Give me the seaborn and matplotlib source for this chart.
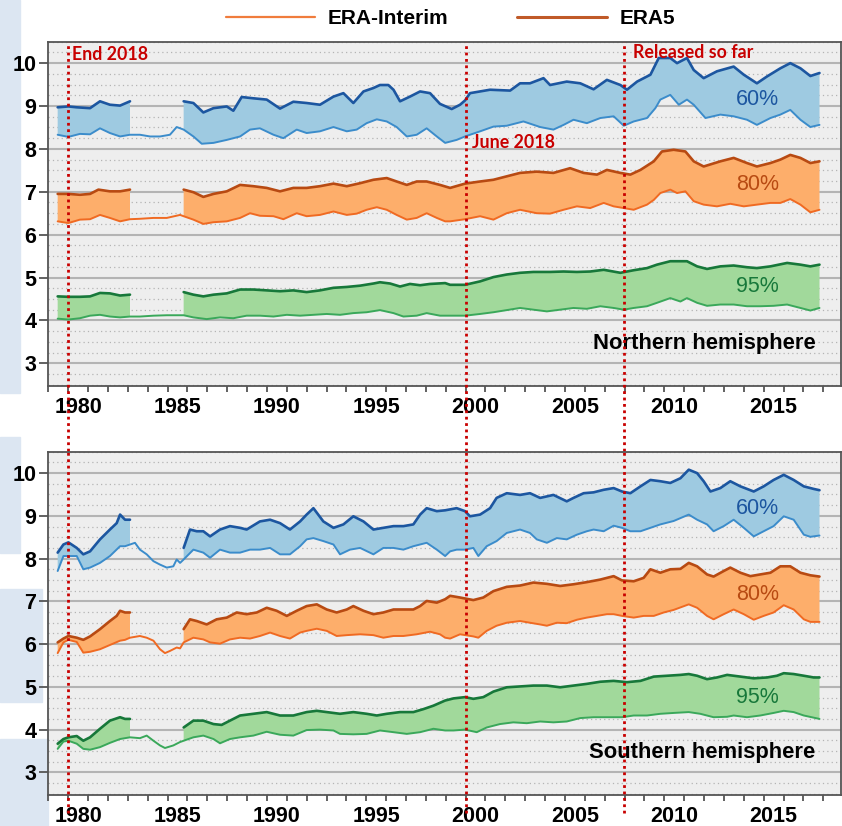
import numpy as np
import matplotlib
matplotlib.use("Agg")
import matplotlib.pyplot as plt
from matplotlib.lines import Line2D
from matplotlib.patches import Rectangle
from matplotlib.ticker import MultipleLocator
import seaborn as sns

sns.set_theme(style="white")
plt.rcParams['font.family'] = ['Liberation Sans', 'DejaVu Sans']
plt.rcParams['font.weight'] = 'bold'
plt.rcParams['text.color'] = 'black'
plt.rcParams['xtick.labelcolor'] = 'black'
plt.rcParams['ytick.labelcolor'] = 'black'

# ---- data: (year, value) ----
# Northern hemisphere
nh60_era5 = [(1979.47, 8.97), (1980.01, 8.99), (1980.43, 8.97), (1981.10, 8.95), (1981.60, 9.11), (1982.10, 9.03),
             (1982.61, 9.01), (1983.11, 9.11),
             (1985.81, 9.11), (1986.30, 9.07), (1986.80, 8.85), (1987.31, 8.95), (1987.98, 8.99), (1988.31, 8.89),
             (1988.73, 9.21), (1989.32, 9.18), (1989.99, 9.15), (1990.66, 8.94), (1991.33, 9.10), (1992.00, 9.07),
             (1992.67, 9.03), (1993.35, 9.22), (1993.85, 9.30), (1994.35, 9.07), (1994.86, 9.34), (1995.36, 9.42),
             (1995.69, 9.49), (1996.11, 9.49), (1996.37, 9.38), (1996.70, 9.11), (1997.20, 9.22), (1997.71, 9.34),
             (1998.21, 9.30), (1998.71, 9.05), (1999.30, 8.93), (1999.72, 9.03), (1999.97, 9.13), (2000.22, 9.30),
             (2001.23, 9.38), (2002.24, 9.36), (2002.74, 9.53), (2003.24, 9.53), (2003.92, 9.65), (2004.25, 9.49),
             (2005.09, 9.57), (2005.77, 9.53), (2006.44, 9.39), (2007.11, 9.61), (2007.79, 9.49), (2008.12, 9.38),
             (2008.63, 9.57), (2009.30, 9.73), (2009.72, 10.12), (2010.30, 10.12), (2010.64, 10.00), (2011.14, 10.12),
             (2011.48, 9.84), (2011.98, 9.65), (2012.65, 9.81), (2013.49, 9.92), (2014.00, 9.73), (2014.66, 9.53),
             (2015.17, 9.69), (2015.84, 9.88), (2016.34, 10.00), (2016.85, 9.88), (2017.35, 9.70), (2017.81, 9.77)]
nh60_erai = [(1979.47, 8.33), (1980.01, 8.28), (1980.59, 8.35), (1981.10, 8.34), (1981.60, 8.48), (1982.10, 8.37),
             (1982.61, 8.29), (1983.11, 8.33), (1983.61, 8.33), (1984.12, 8.29), (1984.62, 8.29), (1985.12, 8.33),
             (1985.46, 8.51), (1985.81, 8.45), (1986.30, 8.29), (1986.72, 8.12), (1987.31, 8.14), (1987.98, 8.21),
             (1988.65, 8.29), (1989.15, 8.45), (1989.65, 8.48), (1990.33, 8.33), (1990.83, 8.25), (1991.50, 8.45),
             (1992.00, 8.37), (1992.67, 8.41), (1993.35, 8.51), (1994.02, 8.41), (1994.52, 8.45), (1995.02, 8.60),
             (1995.53, 8.69), (1996.03, 8.64), (1996.53, 8.51), (1997.04, 8.29), (1997.54, 8.33), (1998.04, 8.48),
             (1998.55, 8.29), (1998.97, 8.14), (1999.22, 8.17), (1999.55, 8.21), (1999.97, 8.29), (2000.73, 8.41),
             (2001.40, 8.52), (2002.07, 8.54), (2002.91, 8.64), (2003.75, 8.51), (2004.42, 8.45), (2004.93, 8.56),
             (2005.43, 8.68), (2006.10, 8.60), (2006.78, 8.72), (2007.45, 8.76), (2007.96, 8.54), (2008.46, 8.64),
             (2009.13, 8.72), (2009.55, 8.95), (2009.80, 9.15), (2010.30, 9.26), (2010.73, 9.03), (2011.14, 9.15),
             (2011.48, 9.03), (2012.07, 8.72), (2012.82, 8.80), (2013.49, 8.76), (2014.16, 8.68), (2014.66, 8.56),
             (2015.34, 8.72), (2015.84, 8.80), (2016.34, 8.91), (2016.85, 8.68), (2017.35, 8.51), (2017.81, 8.56)]
nh80_era5 = [(1979.47, 6.95), (1980.01, 6.95), (1980.59, 6.93), (1981.10, 6.95), (1981.52, 7.05), (1982.10, 7.01),
             (1982.61, 7.01), (1983.11, 7.05),
             (1985.81, 7.05), (1986.30, 6.99), (1986.80, 6.88), (1987.31, 6.95), (1987.98, 7.01), (1988.65, 7.16),
             (1989.32, 7.13), (1989.99, 7.09), (1990.66, 7.01), (1991.33, 7.09), (1992.00, 7.09), (1992.67, 7.13),
             (1993.35, 7.19), (1994.02, 7.13), (1994.69, 7.20), (1995.36, 7.28), (1996.03, 7.32), (1996.53, 7.24),
             (1997.04, 7.16), (1997.54, 7.24), (1998.04, 7.24), (1998.71, 7.16), (1999.22, 7.09), (1999.97, 7.19),
             (2000.73, 7.24), (2001.40, 7.28), (2002.07, 7.36), (2002.74, 7.44), (2003.58, 7.47), (2004.42, 7.44),
             (2005.26, 7.55), (2005.94, 7.44), (2006.61, 7.40), (2007.11, 7.51), (2007.79, 7.44), (2008.29, 7.40),
             (2008.80, 7.51), (2009.47, 7.71), (2009.88, 7.94), (2010.47, 7.98), (2011.06, 7.94), (2011.48, 7.71),
             (2011.98, 7.59), (2012.82, 7.71), (2013.49, 7.79), (2014.16, 7.67), (2014.66, 7.59), (2015.34, 7.67),
             (2015.84, 7.75), (2016.34, 7.86), (2016.85, 7.79), (2017.35, 7.67), (2017.81, 7.71)]
nh80_erai = [(1979.47, 6.31), (1980.01, 6.27), (1980.59, 6.35), (1981.10, 6.36), (1981.60, 6.46), (1982.10, 6.39),
             (1982.61, 6.31), (1983.11, 6.36), (1983.61, 6.37), (1984.29, 6.39), (1984.96, 6.39), (1985.63, 6.46),
             (1985.81, 6.43), (1986.30, 6.35), (1986.80, 6.25), (1987.31, 6.29), (1987.98, 6.31), (1988.65, 6.39),
             (1989.15, 6.50), (1989.65, 6.44), (1990.33, 6.43), (1990.83, 6.36), (1991.50, 6.50), (1992.00, 6.43),
             (1992.67, 6.46), (1993.35, 6.54), (1994.02, 6.46), (1994.52, 6.49), (1995.02, 6.58), (1995.53, 6.64),
             (1996.03, 6.58), (1996.53, 6.46), (1997.04, 6.35), (1997.54, 6.39), (1998.04, 6.50), (1998.55, 6.39),
             (1998.97, 6.31), (1999.22, 6.31), (1999.97, 6.36), (2000.73, 6.43), (2001.40, 6.35), (2002.07, 6.50),
             (2002.74, 6.58), (2003.58, 6.50), (2004.25, 6.49), (2004.93, 6.58), (2005.60, 6.66), (2006.27, 6.62),
             (2006.95, 6.74), (2007.45, 6.66), (2007.96, 6.62), (2008.46, 6.58), (2009.13, 6.70), (2009.47, 6.81),
             (2009.80, 6.97), (2010.30, 7.05), (2010.64, 6.97), (2011.06, 7.01), (2011.48, 6.78), (2011.98, 6.70),
             (2012.65, 6.66), (2013.32, 6.72), (2014.00, 6.66), (2014.66, 6.70), (2015.34, 6.74), (2015.84, 6.74),
             (2016.34, 6.83), (2016.85, 6.70), (2017.35, 6.52), (2017.81, 6.58)]
nh95_era5 = [(1979.47, 4.56), (1980.01, 4.55), (1980.59, 4.55), (1981.10, 4.56), (1981.60, 4.64), (1982.10, 4.63),
             (1982.61, 4.58), (1983.11, 4.60),
             (1985.81, 4.66), (1986.30, 4.60), (1986.80, 4.56), (1987.31, 4.60), (1987.98, 4.63), (1988.65, 4.72),
             (1989.32, 4.72), (1989.99, 4.70), (1990.66, 4.68), (1991.33, 4.70), (1992.00, 4.66), (1992.67, 4.70),
             (1993.35, 4.76), (1994.02, 4.78), (1994.69, 4.81), (1995.36, 4.86), (1995.69, 4.89), (1996.20, 4.86),
             (1996.70, 4.79), (1997.20, 4.85), (1997.71, 4.82), (1998.21, 4.85), (1998.97, 4.87), (1999.22, 4.83),
             (1999.97, 4.83), (2000.73, 4.91), (2001.40, 5.01), (2002.07, 5.07), (2002.74, 5.11), (2003.41, 5.13),
             (2004.25, 5.13), (2004.93, 5.14), (2005.60, 5.13), (2006.27, 5.14), (2006.95, 5.18), (2007.79, 5.11),
             (2008.46, 5.17), (2009.13, 5.22), (2009.63, 5.30), (2010.30, 5.38), (2010.81, 5.38), (2011.14, 5.38),
             (2011.65, 5.26), (2012.15, 5.20), (2012.82, 5.26), (2013.49, 5.28), (2014.16, 5.24), (2014.66, 5.22),
             (2015.34, 5.26), (2016.18, 5.34), (2016.85, 5.30), (2017.35, 5.26), (2017.81, 5.30)]
nh95_erai = [(1979.47, 4.04), (1980.01, 4.02), (1980.59, 4.05), (1981.10, 4.11), (1981.60, 4.13), (1982.10, 4.09),
             (1982.61, 4.07), (1983.11, 4.09), (1983.61, 4.09), (1984.29, 4.11), (1984.96, 4.12), (1985.63, 4.12),
             (1985.81, 4.12), (1986.30, 4.07), (1986.97, 4.03), (1987.64, 4.07), (1988.31, 4.05), (1988.98, 4.11),
             (1989.65, 4.11), (1990.33, 4.09), (1991.00, 4.13), (1991.67, 4.11), (1992.34, 4.13), (1993.01, 4.15),
             (1993.68, 4.13), (1994.35, 4.17), (1995.02, 4.19), (1995.69, 4.24), (1996.37, 4.17), (1996.87, 4.09),
             (1997.54, 4.11), (1998.04, 4.17), (1998.71, 4.11), (1999.39, 4.11), (1999.97, 4.11), (2000.73, 4.15),
             (2001.40, 4.19), (2002.07, 4.24), (2002.74, 4.29), (2003.41, 4.25), (2004.09, 4.21), (2004.76, 4.25),
             (2005.43, 4.29), (2006.10, 4.27), (2006.78, 4.33), (2007.45, 4.29), (2007.96, 4.25), (2008.46, 4.29),
             (2009.13, 4.33), (2009.63, 4.41), (2010.30, 4.52), (2010.81, 4.44), (2011.14, 4.52), (2011.65, 4.41),
             (2012.15, 4.34), (2012.82, 4.37), (2013.49, 4.37), (2014.16, 4.33), (2014.83, 4.33), (2015.50, 4.34),
             (2016.18, 4.37), (2016.85, 4.29), (2017.35, 4.23), (2017.81, 4.29)]

# Southern hemisphere
sh60_era5 = [(1979.47, 8.14), (1979.76, 8.33), (1980.01, 8.38), (1980.43, 8.25), (1980.76, 8.10), (1981.10, 8.17),
             (1981.60, 8.45), (1982.10, 8.68), (1982.44, 8.83), (1982.61, 9.03), (1982.86, 8.91), (1983.11, 8.91),
             (1985.81, 8.25), (1986.13, 8.68), (1986.47, 8.64), (1986.80, 8.64), (1987.14, 8.52), (1987.64, 8.68),
             (1988.14, 8.76), (1988.65, 8.72), (1988.98, 8.68), (1989.65, 8.87), (1990.16, 8.91), (1990.66, 8.83),
             (1991.16, 8.68), (1991.67, 8.87), (1992.00, 9.03), (1992.34, 9.18), (1992.84, 8.87), (1993.35, 8.72),
             (1993.85, 8.80), (1994.35, 8.99), (1994.86, 8.87), (1995.36, 8.68), (1995.86, 8.72), (1996.37, 8.76),
             (1996.87, 8.76), (1997.37, 8.80), (1997.71, 9.03), (1998.04, 9.18), (1998.55, 9.11), (1998.97, 9.13),
             (1999.55, 9.18), (1999.97, 9.11), (2000.22, 8.99), (2000.73, 9.03), (2001.23, 9.18), (2001.56, 9.42),
             (2002.07, 9.53), (2002.74, 9.49), (2003.24, 9.53), (2003.75, 9.42), (2004.42, 9.49), (2005.09, 9.34),
             (2005.43, 9.42), (2005.94, 9.53), (2006.44, 9.55), (2006.95, 9.61), (2007.45, 9.65), (2007.87, 9.57),
             (2008.29, 9.53), (2008.80, 9.69), (2009.30, 9.84), (2009.80, 9.81), (2010.30, 9.77), (2010.81, 9.88),
             (2011.23, 10.08), (2011.65, 10.00), (2011.98, 9.81), (2012.32, 9.57), (2012.82, 9.65), (2013.32, 9.81),
             (2013.83, 9.69), (2014.50, 9.57), (2015.00, 9.69), (2015.50, 9.84), (2016.01, 9.96), (2016.51, 9.84),
             (2017.02, 9.69), (2017.52, 9.63), (2017.81, 9.60)]
sh60_erai = [(1979.47, 7.71), (1979.76, 8.06), (1980.01, 8.06), (1980.43, 8.06), (1980.76, 7.75), (1981.10, 7.79),
             (1981.60, 7.90), (1982.10, 8.06), (1982.61, 8.29), (1982.86, 8.29), (1983.11, 8.33), (1983.36, 8.37),
             (1983.61, 8.21), (1983.95, 8.10), (1984.29, 7.94), (1984.62, 7.86), (1984.96, 7.79), (1985.29, 7.82),
             (1985.46, 7.98), (1985.63, 7.90), (1985.81, 7.98), (1986.30, 8.21), (1986.80, 8.14), (1987.14, 8.02),
             (1987.64, 8.21), (1988.14, 8.14), (1988.65, 8.14), (1989.15, 8.21), (1989.65, 8.21), (1990.16, 8.25),
             (1990.66, 8.10), (1991.16, 8.10), (1991.67, 8.29), (1992.00, 8.45), (1992.34, 8.48), (1992.84, 8.41),
             (1993.35, 8.33), (1993.68, 8.10), (1994.18, 8.21), (1994.69, 8.25), (1995.36, 8.10), (1995.86, 8.25),
             (1996.37, 8.25), (1996.87, 8.21), (1997.37, 8.29), (1998.04, 8.37), (1998.55, 8.21), (1998.97, 8.06),
             (1999.22, 8.17), (1999.55, 8.21), (1999.97, 8.21), (2000.39, 8.25), (2000.64, 8.06), (2001.06, 8.29),
             (2001.56, 8.41), (2002.07, 8.60), (2002.74, 8.68), (2003.24, 8.60), (2003.58, 8.45), (2004.09, 8.37),
             (2004.59, 8.48), (2005.09, 8.45), (2005.60, 8.56), (2006.10, 8.64), (2006.44, 8.68), (2006.95, 8.64),
             (2007.45, 8.77), (2007.87, 8.72), (2008.29, 8.64), (2008.80, 8.64), (2009.30, 8.72), (2009.80, 8.80),
             (2010.47, 8.88), (2011.23, 9.03), (2011.65, 8.91), (2012.15, 8.80), (2012.48, 8.64), (2012.99, 8.76),
             (2013.49, 8.91), (2014.00, 8.72), (2014.50, 8.52), (2015.00, 8.64), (2015.50, 8.76), (2016.01, 8.99),
             (2016.51, 8.91), (2017.02, 8.56), (2017.35, 8.51), (2017.81, 8.54)]
sh80_era5 = [(1979.47, 6.04), (1979.76, 6.13), (1980.01, 6.19), (1980.43, 6.15), (1980.76, 6.10), (1981.10, 6.18),
             (1981.60, 6.35), (1982.10, 6.54), (1982.44, 6.66), (1982.61, 6.78), (1982.86, 6.74), (1983.11, 6.74),
             (1985.81, 6.35), (1986.13, 6.58), (1986.47, 6.54), (1986.97, 6.46), (1987.47, 6.58), (1987.98, 6.62),
             (1988.48, 6.74), (1988.98, 6.70), (1989.49, 6.74), (1989.99, 6.85), (1990.49, 6.78), (1991.00, 6.66),
             (1991.50, 6.78), (1992.00, 6.89), (1992.51, 6.93), (1993.01, 6.81), (1993.51, 6.74), (1994.02, 6.81),
             (1994.35, 6.89), (1994.86, 6.78), (1995.36, 6.70), (1995.86, 6.74), (1996.37, 6.81), (1996.87, 6.81),
             (1997.37, 6.81), (1997.71, 6.89), (1998.04, 7.01), (1998.55, 6.97), (1998.97, 7.05), (1999.22, 7.13),
             (1999.72, 7.09), (2000.39, 7.03), (2000.89, 7.09), (2001.40, 7.24), (2002.07, 7.34), (2002.74, 7.37),
             (2003.41, 7.44), (2004.09, 7.41), (2004.76, 7.36), (2005.43, 7.40), (2006.10, 7.45), (2006.78, 7.51),
             (2007.45, 7.59), (2007.87, 7.49), (2008.46, 7.47), (2008.96, 7.55), (2009.30, 7.75), (2009.80, 7.67),
             (2010.30, 7.75), (2010.81, 7.76), (2011.23, 7.90), (2011.65, 7.82), (2012.15, 7.63), (2012.48, 7.58),
             (2012.99, 7.71), (2013.32, 7.79), (2013.83, 7.67), (2014.33, 7.59), (2014.83, 7.63), (2015.34, 7.67),
             (2015.84, 7.82), (2016.34, 7.82), (2016.85, 7.67), (2017.35, 7.61), (2017.81, 7.58)]
sh80_erai = [(1979.47, 5.79), (1979.76, 6.04), (1980.01, 6.10), (1980.43, 6.05), (1980.76, 5.80), (1981.10, 5.82),
             (1981.60, 5.88), (1982.10, 5.98), (1982.61, 6.08), (1982.86, 6.10), (1983.11, 6.15), (1983.61, 6.19),
             (1983.95, 6.15), (1984.29, 6.08), (1984.62, 5.88), (1984.87, 5.79), (1985.12, 5.84), (1985.46, 5.92),
             (1985.63, 5.90), (1985.81, 6.04), (1986.30, 6.15), (1986.80, 6.11), (1987.14, 6.04), (1987.64, 6.01),
             (1988.14, 6.11), (1988.65, 6.15), (1989.15, 6.13), (1989.65, 6.19), (1990.16, 6.27), (1990.66, 6.19),
             (1991.16, 6.13), (1991.67, 6.27), (1992.00, 6.31), (1992.51, 6.36), (1993.01, 6.31), (1993.51, 6.19),
             (1994.02, 6.21), (1994.69, 6.23), (1995.36, 6.21), (1995.86, 6.15), (1996.37, 6.19), (1996.87, 6.19),
             (1997.54, 6.23), (1998.21, 6.29), (1998.71, 6.23), (1998.97, 6.15), (1999.22, 6.13), (1999.72, 6.23),
             (2000.39, 6.18), (2000.64, 6.15), (2001.06, 6.31), (2001.56, 6.43), (2002.07, 6.50), (2002.74, 6.54),
             (2003.24, 6.50), (2003.75, 6.46), (2004.09, 6.43), (2004.59, 6.50), (2005.09, 6.49), (2005.60, 6.57),
             (2006.10, 6.62), (2006.61, 6.66), (2007.11, 6.70), (2007.45, 6.70), (2007.87, 6.66), (2008.46, 6.62),
             (2008.96, 6.66), (2009.47, 6.66), (2009.97, 6.74), (2010.47, 6.80), (2011.23, 6.93), (2011.65, 6.85),
             (2012.15, 6.66), (2012.48, 6.58), (2012.99, 6.70), (2013.49, 6.81), (2014.00, 6.70), (2014.50, 6.57),
             (2015.00, 6.66), (2015.50, 6.74), (2016.01, 6.91), (2016.51, 6.81), (2017.02, 6.58), (2017.35, 6.52),
             (2017.81, 6.52)]
sh95_era5 = [(1979.47, 3.67), (1979.76, 3.78), (1980.01, 3.82), (1980.43, 3.85), (1980.76, 3.74), (1981.10, 3.82),
             (1981.60, 4.02), (1982.10, 4.21), (1982.61, 4.29), (1982.86, 4.25), (1983.11, 4.25),
             (1985.81, 4.05), (1986.30, 4.21), (1986.80, 4.21), (1987.31, 4.13), (1987.72, 4.11), (1988.14, 4.21),
             (1988.65, 4.33), (1989.32, 4.37), (1989.99, 4.41), (1990.66, 4.33), (1991.33, 4.33), (1992.00, 4.41),
             (1992.51, 4.44), (1993.01, 4.41), (1993.68, 4.37), (1994.35, 4.41), (1995.02, 4.37), (1995.53, 4.33),
             (1996.03, 4.37), (1996.70, 4.41), (1997.37, 4.41), (1997.88, 4.48), (1998.38, 4.56), (1998.97, 4.68),
             (1999.39, 4.73), (1999.97, 4.76), (2000.39, 4.72), (2000.89, 4.76), (2001.40, 4.89), (2002.07, 4.99),
             (2002.74, 5.01), (2003.41, 5.03), (2004.09, 5.03), (2004.76, 4.99), (2005.43, 5.03), (2006.10, 5.07),
             (2006.78, 5.12), (2007.45, 5.14), (2008.12, 5.11), (2008.80, 5.14), (2009.47, 5.24), (2010.14, 5.26),
             (2010.81, 5.28), (2011.23, 5.30), (2011.65, 5.26), (2012.15, 5.18), (2012.65, 5.22), (2013.16, 5.28),
             (2013.83, 5.24), (2014.50, 5.20), (2015.17, 5.22), (2015.67, 5.26), (2016.01, 5.32), (2016.51, 5.30),
             (2017.02, 5.26), (2017.52, 5.22), (2017.81, 5.22)]
sh95_erai = [(1979.47, 3.55), (1979.76, 3.72), (1980.01, 3.74), (1980.43, 3.67), (1980.76, 3.55), (1981.10, 3.53),
             (1981.60, 3.59), (1982.10, 3.69), (1982.61, 3.78), (1983.11, 3.82), (1983.61, 3.80), (1983.95, 3.86),
             (1984.29, 3.74), (1984.62, 3.63), (1984.87, 3.57), (1985.29, 3.63), (1985.63, 3.71), (1985.81, 3.74),
             (1986.30, 3.82), (1986.80, 3.86), (1987.31, 3.78), (1987.64, 3.68), (1988.14, 3.78), (1988.65, 3.82),
             (1989.32, 3.86), (1989.99, 3.95), (1990.66, 3.88), (1991.33, 3.86), (1992.00, 3.99), (1992.67, 4.00),
             (1993.35, 3.98), (1993.68, 3.90), (1994.35, 3.89), (1995.02, 3.90), (1995.69, 3.98), (1996.37, 3.94),
             (1997.04, 3.90), (1997.71, 3.94), (1998.38, 4.02), (1998.97, 3.98), (1999.39, 3.98), (1999.97, 4.00),
             (2000.56, 3.94), (2001.06, 4.05), (2001.73, 4.13), (2002.40, 4.17), (2003.08, 4.15), (2003.75, 4.19),
             (2004.42, 4.17), (2005.09, 4.19), (2005.77, 4.27), (2006.44, 4.29), (2007.11, 4.29), (2007.87, 4.29),
             (2008.46, 4.33), (2009.13, 4.33), (2009.80, 4.37), (2010.47, 4.39), (2011.23, 4.41), (2011.81, 4.37),
             (2012.48, 4.29), (2013.16, 4.30), (2013.49, 4.33), (2014.16, 4.29), (2014.83, 4.33), (2015.50, 4.39),
             (2016.01, 4.44), (2016.51, 4.41), (2017.02, 4.33), (2017.81, 4.25)]

bands = ['60%', '80%', '95%']
label_pos = {'NH': [9.15, 7.16, 4.79], 'SH': [9.18, 7.15, 4.76]}
marker_years = [1980.0, 2000.0, 2007.95]
marker_labels = [('End 2018', 1980.2, 10.2), ('June 2018', 2000.3, 8.15), ('Released so far', 2008.4, 10.26)]
tick_years = list(range(1980, 2016, 5))

# colours: (era5 line, era-interim line, fill)
band_colors = [('#1c56a0', '#3b8ccb', '#9ecae1'),
               ('#b84a12', '#f06a22', '#fdae6b'),
               ('#17783a', '#3aa85a', '#a1d99b')]
red = '#c80000'

panels = [('Northern hemisphere', 'NH', [(nh60_era5, nh60_erai), (nh80_era5, nh80_erai), (nh95_era5, nh95_erai)]),
          ('Southern hemisphere', 'SH', [(sh60_era5, sh60_erai), (sh80_era5, sh80_erai), (sh95_era5, sh95_erai)])]

fig = plt.figure(figsize=(8.42, 8.26), dpi=100)

# light slide-background strips at the left edge
for x0, y0, w, h in [(0, 0.524, 0.0238, 0.476), (0, 0.3305, 0.0238, 0.1404),
                     (0, 0.150, 0.0499, 0.1368), (0, 0.0, 0.057, 0.1053)]:
    fig.add_artist(Rectangle((x0, y0), w, h, transform=fig.transFigure, color='#dce6f2', zorder=0))

ax_top = fig.add_axes([0.0574, 0.5327, 0.9409, 0.4168])
ax_bot = fig.add_axes([0.0574, 0.0375, 0.9409, 0.4156])

for ax, (title, key, series) in zip([ax_top, ax_bot], panels):
    ax.set_facecolor('#eeeeee')
    ax.set_axisbelow(True)
    for i, (e5, ei) in enumerate(series):
        c5, ci, cf = band_colors[i]
        e5 = np.array(e5)
        ei = np.array(ei)
        seg = np.concatenate([[0], np.cumsum(np.diff(e5[:, 0]) > 1.5)])
        # shaded band between ERA5 and ERA-Interim where ERA5 exists
        for s in np.unique(seg):
            part = e5[seg == s]
            m = (ei[:, 0] >= part[0, 0] - 1e-6) & (ei[:, 0] <= part[-1, 0] + 1e-6)
            sub = ei[m]
            ax.fill(np.r_[part[:, 0], sub[::-1, 0]], np.r_[part[:, 1], sub[::-1, 1]],
                    color=cf, lw=0, zorder=1)
        sns.lineplot(x=ei[:, 0], y=ei[:, 1], color=ci, lw=1.4, ax=ax, zorder=2)
        sns.lineplot(x=e5[:, 0], y=e5[:, 1], units=seg, estimator=None, color=c5, lw=1.9, ax=ax, zorder=3)
        ax.text(2014.7, label_pos[key][i], bands[i], color=c5, fontsize=15.5, fontweight='normal',
                ha='center', va='center', zorder=4)
    ax.text(2017.6, 3.47, title, color='black', fontsize=15.8, fontweight='bold', ha='right', va='center', zorder=4)

    ax.set_xlim(1979.0, 2018.87)
    ax.set_ylim(2.47, 10.5)
    ax.set_xlabel('')
    ax.set_ylabel('')
    ax.set_yticks(range(3, 11))
    ax.yaxis.set_minor_locator(MultipleLocator(0.25))
    ax.xaxis.set_major_locator(MultipleLocator(1))
    ax.set_xticklabels([])
    ax.set_xticks([y + 0.5 for y in tick_years], labels=[str(y) for y in tick_years], minor=True)
    ax.grid(which='major', axis='y', color='#b4b4b4', lw=1.5)
    ax.grid(which='minor', axis='y', color='#b4b4b4', lw=0.9, ls=(0, (1, 2.5)))
    ax.grid(which='both', axis='x', visible=False)
    ax.tick_params(axis='y', which='major', length=6.5, width=1.3, color='#555555', pad=2, labelsize=15.5,
                   left=True, labelcolor='black')
    ax.tick_params(axis='y', which='minor', length=0)
    ax.tick_params(axis='x', which='major', length=4.5, width=1.3, color='#555555', bottom=True)
    ax.tick_params(axis='x', which='minor', length=0, pad=8, labelsize=15.5, labelcolor='black')
    for sp in ax.spines.values():
        sp.set_color('#555555')
        sp.set_linewidth(1.3)

# red dotted release markers, running through both panels
for x in marker_years:
    ax_top.axvline(x, ymin=-0.19, ymax=1, color=red, lw=2, ls=(0, (1, 1.3)), clip_on=False, zorder=5)
    ax_bot.axvline(x, ymin=-0.052, ymax=1, color=red, lw=2, ls=(0, (1, 1.3)), clip_on=False, zorder=5)
for txt, x, y in marker_labels:
    ax_top.text(x, y, txt, color=red, fontsize=12.8, fontweight='bold', family=['Lato', 'DejaVu Sans'],
                ha='left', va='center', zorder=6)

handles = [Line2D([], [], color='#f07c3c', lw=1.6), Line2D([], [], color='#c05a28', lw=2.2)]
fig.legend(handles, ['ERA-Interim', 'ERA5'], loc='center', bbox_to_anchor=(0.535, 0.977), ncol=2,
           frameon=False, handlelength=4.3, columnspacing=3.3, handletextpad=0.6,
           prop=dict(family='Liberation Sans', weight='bold', size=15))

fig.savefig('out.png', dpi=100)
